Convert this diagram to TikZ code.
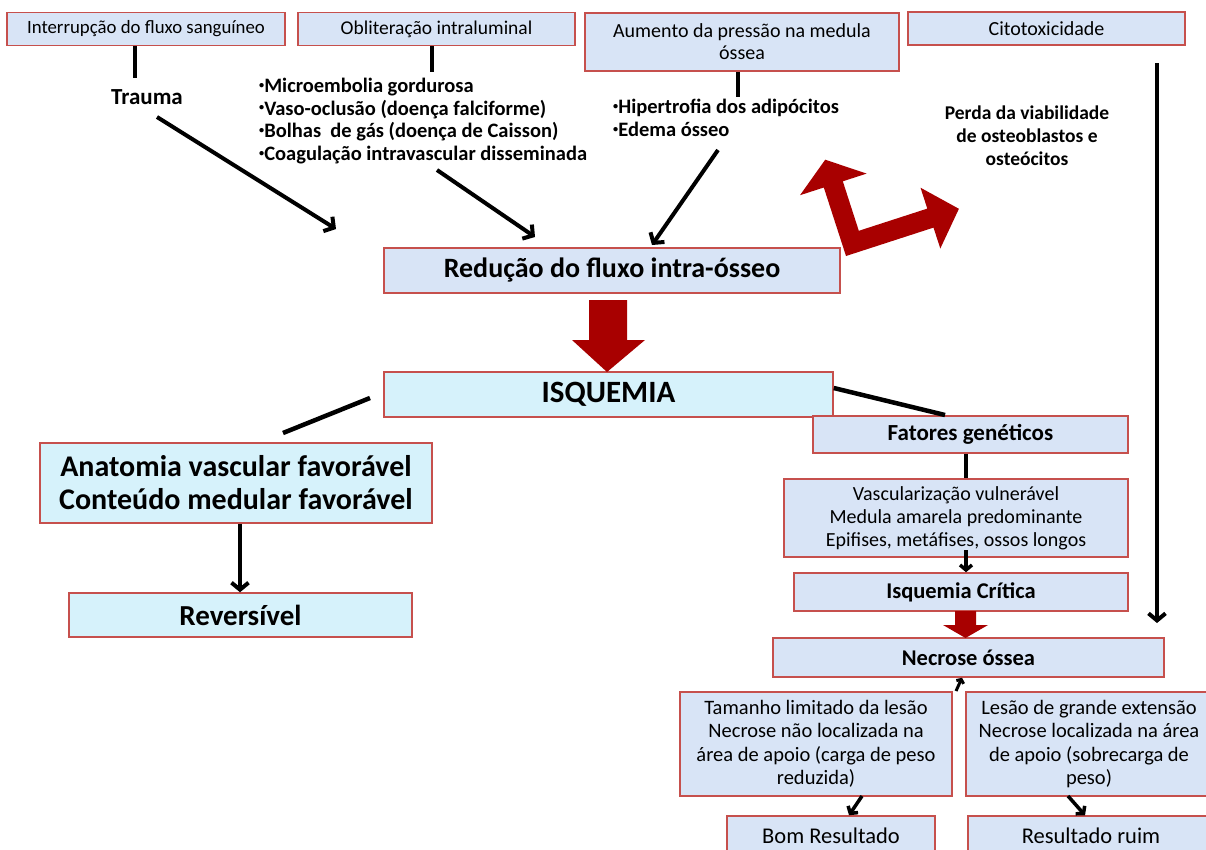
\documentclass[tikz,border=0pt]{standalone}
\usepackage{fontspec}
\setmainfont{Carlito}
\usetikzlibrary{arrows.meta,calc}
\definecolor{boxred}{RGB}{198,80,77}
\definecolor{boxblue}{RGB}{216,228,246}
\definecolor{boxcyan}{RGB}{214,242,251}
\definecolor{darkred}{RGB}{168,0,0}
\newcommand\myfs[2]{\fontsize{#1}{#2}\selectfont}
\newcommand\mybul{\raisebox{0.45ex}{\scalebox{0.5}{•}}}
\begin{document}
\begin{tikzpicture}[x=1pt,y=-1pt,
  box/.style={draw=boxred, line width=1.5pt, fill=boxblue, inner sep=0pt, align=center},
  cbox/.style={box, fill=boxcyan},
  bar/.style={line width=4.5pt},
  arr/.style={line width=4pt, -{Straight Barb[length=7pt,width=17pt]}},
  sarr/.style={line width=3.5pt, -{Straight Barb[length=5pt,width=12pt]}},
  redarrow/.style={fill=darkred, draw=none},
  lbl/.style={inner sep=0pt, align=center, font=\bfseries\myfs{19.5}{23}}]
\useasboundingbox (0,0) rectangle (1206,849);
\fill[white] (0,0) rectangle (1206,849);
% top boxes
\node[box, minimum width=278pt, minimum height=33pt, font=\myfs{18.8}{22}] (b1) at (146,29) {Interrupção do fluxo sanguíneo};
\node[box, minimum width=277pt, minimum height=33pt, font=\myfs{19.5}{22}] (b2) at (436.5,29) {Obliteração intraluminal};
\node[box, minimum width=314pt, minimum height=58pt, font=\myfs{20}{22}] (b3) at (742,42) {Aumento da pressão na medula\\óssea};
\node[box, minimum width=277pt, minimum height=33pt, font=\myfs{20}{22}] (b4) at (1046.5,28.5) {Citotoxicidade};
% free labels
\node[lbl, font=\bfseries\myfs{23}{25}] (trauma) at (147,97) {Trauma};
\node[lbl, anchor=north west, align=left, font=\bfseries\myfs{20.5}{22.7}] (obl) at (259,78) {\mybul Microembolia gordurosa\\\mybul Vaso-oclusão (doença falciforme)\\\mybul Bolhas\ \ de gás (doença de Caisson)\\\mybul Coagulação intravascular disseminada};
\node[lbl, anchor=north west, align=left, font=\bfseries\myfs{20.5}{23}] (hip) at (613,99) {\mybul Hipertrofia dos adipócitos\\\mybul Edema ósseo};
\node[lbl] (perda) at (1027,136) {Perda da viabilidade\\de osteoblastos e\\osteócitos};
% middle
\node[box, minimum width=456pt, minimum height=45pt, font=\bfseries\myfs{28}{30}] (red) at (612,270.5) {Redução do fluxo intra-ósseo};
\node[cbox, minimum width=449pt, minimum height=45pt, font=\bfseries\myfs{31}{32}] (isq) at (608.5,394.5) {ISQUEMIA};
\node[cbox, minimum width=392pt, minimum height=80pt, font=\bfseries\myfs{30}{33}] (anat) at (236,483) {Anatomia vascular favorável\\Conteúdo medular favorável};
\node[cbox, minimum width=343pt, minimum height=44pt, font=\bfseries\myfs{29}{30}] (rev) at (240.5,615) {Reversível};
% right column
\node[box, minimum width=315pt, minimum height=37pt, font=\bfseries\myfs{23}{25}] (fat) at (970.5,434.5) {Fatores genéticos};
\node[box, minimum width=344pt, minimum height=78pt, font=\myfs{20}{23}] (vasc) at (956,518) {Vascularização vulnerável\\Medula amarela predominante\\Epifises, metáfises, ossos longos};
\node[box, minimum width=334pt, minimum height=38pt, font=\bfseries\myfs{22.5}{25}] (isqc) at (961,592) {Isquemia Crítica};
\node[box, minimum width=391pt, minimum height=39pt, font=\bfseries\myfs{22.5}{25}] (nec) at (968.5,657.5) {Necrose óssea};
\node[box, minimum width=272pt, minimum height=104pt, font=\myfs{20.5}{23.5}] (tam) at (816,744) {Tamanho limitado da lesão\\Necrose não localizada na\\área de apoio (carga de peso\\reduzida)};
\node[box, minimum width=246pt, minimum height=104pt, font=\myfs{20.5}{23.5}] (les) at (1089,744) {Lesão de grande extensão\\Necrose localizada na área\\de apoio (sobrecarga de\\peso)};
\node[box, minimum width=208pt, minimum height=40pt, font=\myfs{22.5}{25}] (bom) at (831,836) {Bom Resultado};
\node[box, minimum width=246pt, minimum height=40pt, font=\myfs{22.5}{25}] (ruim) at (1091,836) {Resultado ruim};
% free ends
\coordinate (t1) at (336,229);
\coordinate (t2) at (535,237);
\coordinate (s3) at (718,150);
\coordinate (t3) at (652,245);
\coordinate (il) at (370,398);
\coordinate (ile) at (283,433);
\coordinate (ire) at (945,415);
\coordinate (top) at (1157,63);
\coordinate (bot) at (1157,623);
% connectors
\draw[bar] (135,0 |- b1.south) -- (135,78);
\draw[bar] (432,0 |- b2.south) -- (432,72);
\draw[bar] (738,0 |- b3.south) -- (738,97);
\draw[arr] (157,117) -- (t1);
\draw[arr] (437,170) -- (t2);
\draw[arr] (s3) -- (t3);
\draw[bar] (il) -- (ile);
\draw[bar] (isq.east |- 0,388) -- (ire);
\draw[arr] (anat.south -| 240,0) -- (rev.north -| 240,0);
\draw[bar] (fat.south -| 966,0) -- (vasc.north -| 966,0);
\draw[sarr] (966,550) -- (isqc.north -| 966,0);
\draw[arr] (top) -- (bot);
\draw[line width=3pt, -{Straight Barb[length=3pt,width=8pt]}] (956,691) -- (nec.south -| 962,0);
\draw[sarr] (862,796) -- (bom.north -| 849,0);
\draw[sarr] (1068,796) -- (ruim.north -| 1085,0);
% red block arrows
\fill[redarrow] (589,300) -- (627,300) -- (627,340) -- (645,340) -- (607,372) -- (572,340) -- (589,340) -- cycle;
\fill[redarrow] (955,611) -- (976,611) -- (976,625) -- (988,625) -- (965.5,638) -- (943,625) -- (955,625) -- cycle;
\fill[redarrow] (846,256) -- (933.5,227.6) -- (940.3,248.5) -- (958.9,208.8) -- (920.5,187.7) -- (927.3,208.6) -- (858.8,230.8) -- (842.8,181.3) -- (866.6,173.6) -- (825.2,159.7) -- (800.0,195.2) -- (823.8,187.5) -- cycle;
\end{tikzpicture}
\end{document}
